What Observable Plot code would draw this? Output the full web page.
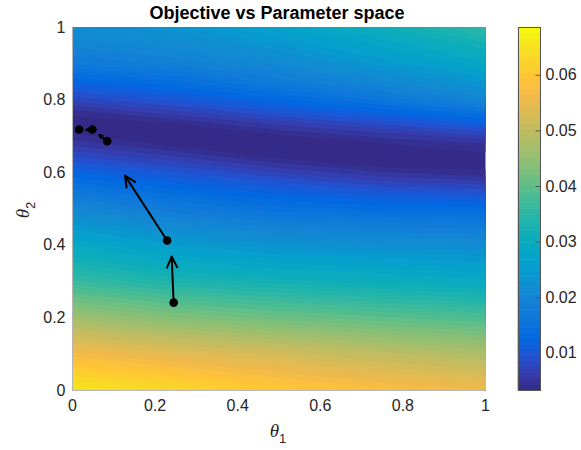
<!DOCTYPE html>
<html>
<head>
<meta charset="utf-8">
<script src="https://cdn.jsdelivr.net/npm/d3@7"></script>
<script src="https://cdn.jsdelivr.net/npm/@observablehq/plot@0.6"></script>
<style>
  body { margin: 0; background: #fff; }
  #chart { width: 581px; height: 450px; }
</style>
</head>
<body>
<div id="chart"></div>
<script>
// ---- Data ----
// Objective sampled along vertical lines theta1 = 0, 0.25, 0.5, 0.75, 1
const theta1Grid = [0, 0.25, 0.5, 0.75, 1];
// theta2 where the valley (minimum) of each column lies
const valleyTheta2 = [0.735, 0.705, 0.672, 0.648, 0.625];

const theta2_col0 = [0, 0.1, 0.2, 0.3, 0.4, 0.5, 0.635, 0.675, 0.705, 0.735, 0.765, 0.795, 0.835, 0.9, 1];
const objective_col0 = [0.0668, 0.0575, 0.0470, 0.0370, 0.0295, 0.0210, 0.0098, 0.0065, 0.0043, 0.0035, 0.0045, 0.0078, 0.0112, 0.0175, 0.0225];

const theta2_col1 = [0, 0.1, 0.2, 0.3, 0.4, 0.5, 0.605, 0.645, 0.675, 0.705, 0.735, 0.765, 0.805, 0.9, 1];
const objective_col1 = [0.0640, 0.0550, 0.0440, 0.0340, 0.0258, 0.0178, 0.0100, 0.0066, 0.0040, 0.0034, 0.0042, 0.0072, 0.0110, 0.0190, 0.0240];

const theta2_col2 = [0, 0.1, 0.2, 0.3, 0.4, 0.5, 0.572, 0.612, 0.642, 0.672, 0.702, 0.732, 0.772, 0.85, 1];
const objective_col2 = [0.0610, 0.0530, 0.0420, 0.0325, 0.0237, 0.0155, 0.0103, 0.0067, 0.0040, 0.0033, 0.0040, 0.0066, 0.0108, 0.0180, 0.0275];

const theta2_col3 = [0, 0.1, 0.2, 0.3, 0.4, 0.5, 0.548, 0.588, 0.618, 0.648, 0.678, 0.708, 0.748, 0.8, 0.9, 1];
const objective_col3 = [0.0588, 0.0505, 0.0405, 0.0312, 0.0230, 0.0145, 0.0104, 0.0067, 0.0040, 0.0033, 0.0040, 0.0064, 0.0106, 0.0165, 0.0250, 0.0315];

const theta2_col4 = [0, 0.1, 0.2, 0.3, 0.4, 0.5, 0.525, 0.565, 0.595, 0.625, 0.655, 0.685, 0.725, 0.8, 0.9, 1];
const objective_col4 = [0.0570, 0.0485, 0.0390, 0.0300, 0.0222, 0.0142, 0.0118, 0.0080, 0.0047, 0.0036, 0.0042, 0.0056, 0.0105, 0.0205, 0.0290, 0.0360];

// optimisation path (points) and quiver arrow tips
const pathTheta1 = [0.245, 0.229, 0.084, 0.048, 0.016];
const pathTheta2 = [0.242, 0.413, 0.687, 0.719, 0.719];
const arrowTipTheta1 = [0.240, 0.127, 0.065, 0.033];
const arrowTipTheta2 = [0.369, 0.592, 0.704, 0.718];

// axes / colorbar
const axisTicks = [0, 0.2, 0.4, 0.6, 0.8, 1];
const colorTicks = [0.01, 0.02, 0.03, 0.04, 0.05, 0.06];
const colorMin = 0.0033, colorMax = 0.0686;
const parula = ["#352a87", "#353dad", "#2053d4", "#0268e1", "#0d75dc", "#1481d6", "#108ed2",
                "#079ccf", "#06a7c6", "#0faeb9", "#25b5a9", "#42bb98", "#65be86", "#87bf77",
                "#a5be6b", "#c0bc60", "#d9ba56", "#f1b94a", "#ffc337", "#fad32a", "#f5e41d", "#f9fb0e"];
const titleText = "Objective vs Parameter space";

// ---- Interpolation of the sampled columns (follows the valley between columns) ----
const colTheta2 = [theta2_col0, theta2_col1, theta2_col2, theta2_col3, theta2_col4];
const colObjective = [objective_col0, objective_col1, objective_col2, objective_col3, objective_col4];

function columnValue(j, t2) {
  const T = colTheta2[j], F = colObjective[j];
  if (t2 <= T[0]) return F[0];
  if (t2 >= T[T.length - 1]) return F[F.length - 1];
  const i = d3.bisectRight(T, t2) - 1;
  const k = (t2 - T[i]) / (T[i + 1] - T[i]);
  return F[i] + k * (F[i + 1] - F[i]);
}
function objectiveAt(t1, t2) {
  const j = Math.min(theta1Grid.length - 2, Math.max(0, d3.bisectRight(theta1Grid, t1) - 1));
  const a = Math.max(0, Math.min(1, (t1 - theta1Grid[j]) / (theta1Grid[j + 1] - theta1Grid[j])));
  const c = valleyTheta2[j] * (1 - a) + valleyTheta2[j + 1] * a;
  const o = t2 - c;
  const s = Math.max(0, 1 - Math.abs(o) / 0.3);
  const v0 = columnValue(j, t2 + s * (valleyTheta2[j] - c));
  const v1 = columnValue(j + 1, t2 + s * (valleyTheta2[j + 1] - c));
  return v0 * (1 - a) + v1 * a;
}

const arrows = arrowTipTheta1.map((x2, i) => ({x1: pathTheta1[i], y1: pathTheta2[i], x2, y2: arrowTipTheta2[i]}));
const points = pathTheta1.map((x, i) => ({x, y: pathTheta2[i]}));

const interp = d3.piecewise(d3.interpolateRgb, parula);
const colorScale = {type: "linear", domain: [colorMin, colorMax], interpolate: interp, clamp: true};
const levels = d3.range(0.0030, 0.0690, 0.0012);
const cbStep = (colorMax - colorMin) / 64;
const cbLevels = d3.range(64).map(i => colorMin + i * cbStep);
const fmt = d3.format("~g");
const font = '"Liberation Sans", Arial, Helvetica, sans-serif';

const main = Plot.plot({
  width: 581, height: 450,
  marginLeft: 72, marginRight: 96, marginTop: 27, marginBottom: 60,
  style: {fontFamily: font, fontSize: "16px", color: "#262626", background: "#fff", overflow: "visible"},
  x: {domain: [0, 1], label: null},
  y: {domain: [0, 1], label: null},
  color: colorScale,
  marks: [
    Plot.contour({fill: objectiveAt, x1: 0, y1: 0, x2: 1, y2: 1, thresholds: levels, pixelSize: 1}),
    Plot.ruleX([0], {stroke: "#b5b5b5", strokeWidth: 1}),
    Plot.ruleY([0], {stroke: "#b5b5b5", strokeWidth: 1}),
    Plot.arrow(arrows, {x1: "x1", y1: "y1", x2: "x2", y2: "y2", stroke: "#000", strokeWidth: 2,
                        headLength: 9, headAngle: 50}),
    Plot.dot(points, {x: "x", y: "y", r: 4.3, fill: "#000", stroke: "none"}),
    Plot.axisX(axisTicks, {tickSize: 0, tickPadding: 9, tickFormat: fmt, label: null}),
    Plot.axisY(axisTicks, {tickSize: 0, tickPadding: 7, tickFormat: fmt, label: null})
  ]
});

const cb = Plot.plot({
  width: 64, height: 450,
  marginLeft: 0, marginRight: 42, marginTop: 27, marginBottom: 60,
  style: {fontFamily: font, fontSize: "16px", color: "#262626", background: "transparent", overflow: "visible"},
  x: {domain: [0, 1], axis: null},
  y: {domain: [colorMin, colorMax], axis: null},
  color: colorScale,
  marks: [
    Plot.rect(cbLevels, {x1: 0, x2: 1, y1: d => d, y2: d => d + cbStep, fill: d => d + cbStep / 2, inset: -0.3}),
    Plot.ruleY(colorTicks, {x1: 0.8, x2: 1, stroke: "#555", strokeWidth: 1}),
    Plot.frame({stroke: "#555", strokeWidth: 1}),
    Plot.axisY(colorTicks, {anchor: "right", tickSize: 0, tickPadding: 5, tickFormat: fmt, label: null})
  ]
});
cb.setAttribute("x", 518);
cb.setAttribute("y", 0);
main.appendChild(cb);

const svg = d3.select(main);
svg.append("text")
  .attr("x", 277).attr("y", 19)
  .attr("text-anchor", "middle")
  .attr("font-family", font).attr("font-weight", "bold").attr("font-size", 18)
  .attr("fill", "#000")
  .text(titleText);

const xl = svg.append("text")
  .attr("x", 278).attr("y", 437)
  .attr("text-anchor", "middle")
  .attr("fill", "#262626");
xl.append("tspan").attr("font-family", '"Liberation Serif", "DejaVu Serif", serif')
  .attr("font-style", "italic").attr("font-size", 19).text("θ");
xl.append("tspan").attr("font-family", font).attr("font-size", 13).attr("dy", 6).text("1");

const yl = svg.append("text")
  .attr("transform", "translate(29,210) rotate(-90)")
  .attr("text-anchor", "middle")
  .attr("fill", "#262626");
yl.append("tspan").attr("font-family", '"Liberation Serif", "DejaVu Serif", serif')
  .attr("font-style", "italic").attr("font-size", 19).text("θ");
yl.append("tspan").attr("font-family", font).attr("font-size", 13).attr("dy", 6).text("2");

document.getElementById("chart").appendChild(main);
</script>
</body>
</html>
